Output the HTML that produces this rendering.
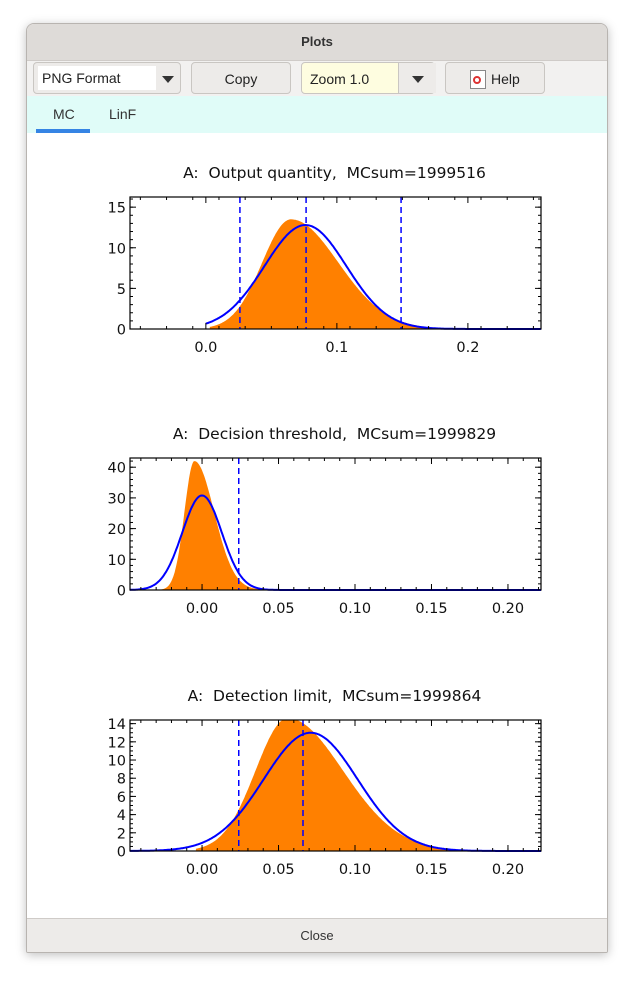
<!DOCTYPE html>
<html><head><style>
body{margin:0;width:633px;height:981px;background:#fff;font-family:"Liberation Sans",sans-serif;position:relative;overflow:hidden}
.win{position:absolute;left:26px;top:23px;width:580px;height:928px;border:1px solid #b8b4b0;border-radius:8px 8px 2px 2px;background:#fff;overflow:hidden;box-shadow:0 2px 10px rgba(0,0,0,.25)}
.tb{position:absolute;left:0;top:0;width:580px;height:36px;background:#dedbd8;border-bottom:1px solid #cfcbc8;text-align:center;line-height:36px;font-weight:bold;font-size:13px;color:#333}
.tool{position:absolute;left:0;top:37px;width:580px;height:35px;background:#f2f1f0}
.btn{position:absolute;top:1px;height:32px;border:1px solid #c9c6c2;border-radius:4px;background:#edebe9;font-size:14px;line-height:32px;color:#222;box-sizing:border-box}
.tabs{position:absolute;left:0;top:72px;width:580px;height:37px;background:#e0fcf8}
.foot{position:absolute;left:0;top:894px;width:580px;height:34px;background:#edebe9;border-top:1px solid #cfcbc8;text-align:center;line-height:33px;font-size:13px;color:#333}
.tri{display:inline-block;width:0;height:0;border-left:6px solid transparent;border-right:6px solid transparent;border-top:7px solid #333}
</style></head><body>
<div class="win">
<div class="tb">Plots</div>
<div class="tool">
 <div class="btn" style="left:6px;width:148px;"><span style="position:absolute;left:4px;top:3px;width:118px;height:24px;background:#fff;line-height:24px;padding-left:4px;box-sizing:border-box">PNG Format</span><span class="tri" style="position:absolute;left:128px;top:13px"></span></div>
 <div class="btn" style="left:164px;width:100px;text-align:center">Copy</div>
 <div class="btn" style="left:274px;width:134px;background:#fefde0"><span style="position:absolute;left:8px">Zoom 1.0</span><span style="position:absolute;left:96px;top:0;width:37px;height:30px;background:#edebe9;border-left:1px solid #c9c6c2"></span><span class="tri" style="position:absolute;left:110px;top:13px"></span></div>
 <div class="btn" style="left:418px;width:100px;"><span style="position:absolute;left:24px;top:7px;width:14px;height:17px;border:1px solid #888;background:#fff"><span style="position:absolute;left:2px;top:5px;width:8px;height:8px;border:2px solid #d33;border-radius:50%;box-sizing:border-box"></span></span><span style="position:absolute;left:45px">Help</span></div>
</div>
<div class="tabs">
 <span style="position:absolute;left:26px;top:10px;font-size:14px;color:#333">MC</span>
 <span style="position:absolute;left:82px;top:10px;font-size:14px;color:#333">LinF</span>
 <div style="position:absolute;left:9px;top:33px;width:54px;height:4px;background:#3584e4"></div>
</div>
<div class="foot">Close</div>
</div>
<svg id="s" width="633" height="981" style="position:absolute;left:0;top:0" font-family="DejaVu Sans, sans-serif"></svg>
<script>
const S=document.getElementById('s');let h='';
function plot(o){
 const {x0,x1,y0,y1,xa,xb,ya,yb}=o;
 const X=v=>x0+(v-xa)/(xb-xa)*(x1-x0), Y=v=>y1-(v-ya)/(yb-ya)*(y1-y0);
 h+=`<text x="${(x0+x1)/2-1}" y="${y0-19}" font-size="15.5" text-anchor="middle" fill="#111">${o.title}</text>`;
 let p=`M${X(o.hs)},${y1}`;
 for(let v=o.hs;v<=o.he;v+=(xb-xa)/600){let d=v<o.pk?o.sl:o.sr;let z=(v-o.pk)/d;let f=v<o.pk?o.H*Math.exp(-z*z/2):o.H*(0.8*Math.exp(-z*z/2)+0.2*Math.exp(-z*0.9*Math.abs(z)/2.5));p+=`L${X(v).toFixed(1)},${Math.max(Y(f),y0).toFixed(1)}`;}
 p+=`L${X(o.he)},${y1}Z`;
 h+=`<path d="${p}" fill="#ff8000"/>`;
 let q='';for(let v=o.gs;v<=xb;v+=(xb-xa)/400){let f=o.G*Math.exp(-((v-o.m)**2)/(2*o.s*o.s));q+=(q?'L':'M')+X(v).toFixed(1)+','+Y(f).toFixed(1);}
 h+=`<path d="${q}" fill="none" stroke="#0000ff" stroke-width="2"/>`;
 for(const d of o.dash)h+=`<line x1="${X(d)}" x2="${X(d)}" y1="${y0}" y2="${y1}" stroke="#0000ff" stroke-width="1.5" stroke-dasharray="6,4"/>`;
 h+=`<rect x="${x0}" y="${y0}" width="${x1-x0}" height="${y1-y0}" fill="none" stroke="#000" stroke-width="1.2"/>`;
 for(let v=o.xmt0;v<=xb+1e-9;v+=o.xmt){const x=X(v);if(x<x0||x>x1)continue;h+=`<line x1="${x}" x2="${x}" y1="${y1}" y2="${y1-3}" stroke="#000"/><line x1="${x}" x2="${x}" y1="${y0}" y2="${y0+3}" stroke="#000"/>`;}
 for(const v of o.xl){const x=X(v[0]);h+=`<line x1="${x}" x2="${x}" y1="${y1}" y2="${y1-6}" stroke="#000"/><line x1="${x}" x2="${x}" y1="${y0}" y2="${y0+6}" stroke="#000"/><text x="${x}" y="${y1+23}" font-size="14.5" text-anchor="middle" fill="#111">${v[1]}</text>`;}
 for(let v=0;v<=yb;v+=o.ymt){const y=Y(v);h+=`<line x1="${x0}" x2="${x0+3}" y1="${y}" y2="${y}" stroke="#000"/><line x1="${x1}" x2="${x1-3}" y1="${y}" y2="${y}" stroke="#000"/>`;}
 for(const v of o.yl){const y=Y(v);h+=`<line x1="${x0}" x2="${x0+6}" y1="${y}" y2="${y}" stroke="#000"/><line x1="${x1}" x2="${x1-6}" y1="${y}" y2="${y}" stroke="#000"/><text x="${x0-4}" y="${y+5.5}" font-size="14.5" text-anchor="end" fill="#111">${v}</text>`;}
}
plot({title:"A:&#160; Output quantity,&#160; MCsum=1999516",x0:130,x1:541,y0:197,y1:329,xa:-0.0579,xb:0.2558,ya:0,yb:16.25,
 hs:0.003,he:0.25,pk:0.065,H:13.5,sl:0.022,sr:0.035,gs:0,G:12.8,m:0.076,s:0.0312,dash:[0.026,0.0765,0.149],
 xmt0:-0.05,xmt:0.02,xl:[[0,"0.0"],[0.1,"0.1"],[0.2,"0.2"]],ymt:1,yl:[0,5,10,15]});
plot({title:"A:&#160; Decision threshold,&#160; MCsum=1999829",x0:130,x1:541,y0:458,y1:590,xa:-0.0471,xb:0.2216,ya:0,yb:43,
 hs:-0.03,he:0.1,pk:-0.005,H:42,sl:0.0065,sr:0.0125,gs:-0.0471,G:30.8,m:0,s:0.01295,dash:[0.024],
 xmt0:-0.04,xmt:0.01,xl:[[0,"0.00"],[0.05,"0.05"],[0.1,"0.10"],[0.15,"0.15"],[0.2,"0.20"]],ymt:2,yl:[0,10,20,30,40]});
plot({title:"A:&#160; Detection limit,&#160; MCsum=1999864",x0:130,x1:541,y0:720,y1:851,xa:-0.0471,xb:0.2216,ya:0,yb:14.4,
 hs:-0.004,he:0.21,pk:0.056,H:14.6,sl:0.021,sr:0.035,gs:-0.0471,G:13,m:0.071,s:0.0307,dash:[0.024,0.066],
 xmt0:-0.04,xmt:0.01,xl:[[0,"0.00"],[0.05,"0.05"],[0.1,"0.10"],[0.15,"0.15"],[0.2,"0.20"]],ymt:0.5,yl:[0,2,4,6,8,10,12,14]});
S.innerHTML=h;
</script>
</body></html>
